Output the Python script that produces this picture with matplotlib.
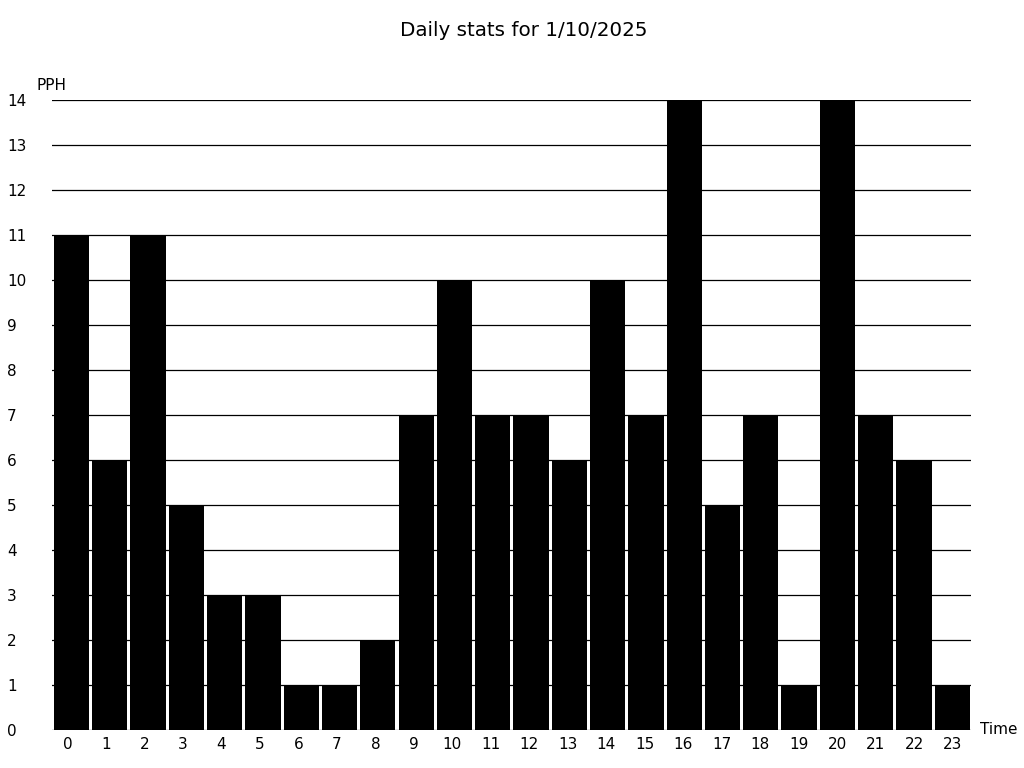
import numpy as np
import matplotlib
matplotlib.use('Agg')
import matplotlib.pyplot as plt

# data
hours = list(range(24))
pph = [11, 6, 11, 5, 3, 3, 1, 1, 2, 7, 10, 7, 7, 6, 10, 7, 14, 5, 7, 1, 14, 7, 6, 1]
y_ticks = list(range(15))
title = 'Daily stats for 1/10/2025'

fig = plt.figure(figsize=(10.24, 7.68), dpi=100)
ax = fig.add_axes([52 / 1024, 1 - 730 / 768, (971 - 52) / 1024, (730 - 100) / 768])

x = np.array(hours) + 0.5
ax.bar(x + 0.01, pph, width=0.92, color='black', zorder=2)
ax.set_xlim(0, 24)
ax.set_ylim(0, 14)

# grid lines
for v in y_ticks:
    ax.axhline(v, color='black', lw=0.9, zorder=3)

for s in ax.spines.values():
    s.set_visible(False)

ax.set_xticks([])
ax.set_yticks(y_ticks)
ax.set_yticklabels([str(v) for v in y_ticks], fontsize=11, ha='left')
ax.tick_params(axis='both', length=0)
ax.tick_params(axis='y', pad=32.4)

# hour labels sit on a slightly different scale than the bars
lab = ax.twiny()
lab.set_xlim(-0.403, 23.48)
lab.xaxis.set_ticks_position('bottom')
lab.set_xticks(hours)
lab.set_xticklabels([str(h) for h in hours], fontsize=11)
lab.tick_params(axis='x', length=0, pad=5)
for s in lab.spines.values():
    s.set_visible(False)

fig.text(37 / 1024, 1 - 85 / 768, 'PPH', fontsize=11, ha='left', va='center')
fig.text(980 / 1024, 1 - 730 / 768, 'Time', fontsize=11, ha='left', va='center')
fig.text(524 / 1024, 1 - 31 / 768, title, fontsize=14.3, ha='center', va='center')

plt.savefig('out.png', dpi=100)
plt.close()
